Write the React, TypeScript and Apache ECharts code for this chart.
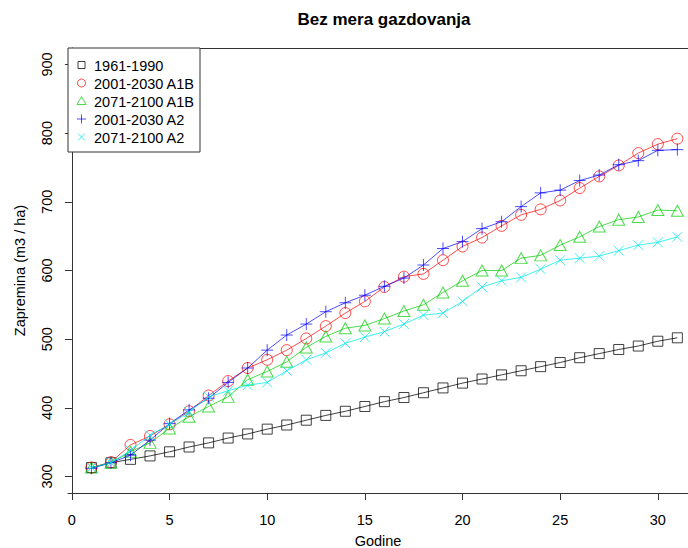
import React, { useEffect, useRef } from "react";
import * as echarts from "echarts";

const years = [1, 2, 3, 4, 5, 6, 7, 8, 9, 10, 11, 12, 13, 14, 15, 16, 17, 18, 19, 20, 21, 22, 23, 24, 25, 26, 27, 28, 29, 30, 31];

const base1961 = [313, 320, 325, 330, 336, 343, 349, 356, 362, 369, 375, 382, 389, 395, 402, 409, 415, 422, 429, 436, 442, 448, 454, 460, 466, 473, 479, 485, 490, 497, 502];
const a1b2001 = [313, 321, 346, 359, 376, 395, 418, 439, 458, 470, 484, 501, 519, 538, 555, 576, 591, 595, 615, 635, 648, 665, 681, 689, 702, 720, 737, 753, 771, 784, 792];
const a1b2071 = [313, 320, 336, 349, 370, 387, 402, 416, 441, 453, 467, 488, 504, 516, 520, 530, 541, 550, 568, 585, 600, 600, 618, 622, 637, 649, 664, 674, 678, 688, 687];
const a22001 = [312, 320, 331, 353, 377, 397, 414, 437, 458, 484, 506, 522, 540, 553, 564, 577, 589, 608, 632, 642, 661, 671, 693, 713, 717, 731, 739, 754, 760, 775, 776];
const a22071 = [313, 320, 338, 360, 376, 394, 416, 425, 433, 437, 454, 470, 480, 494, 503, 511, 522, 535, 538, 555, 576, 585, 590, 602, 615, 618, 621, 629, 637, 641, 649];

const seriesNames = ["1961-1990", "2001-2030 A1B", "2071-2100 A1B", "2001-2030 A2", "2071-2100 A2"];
const xTicks = [0, 5, 10, 15, 20, 25, 30];
const yTicks = [300, 400, 500, 600, 700, 800, 900];

const titleText = "Bez mera gazdovanja";
const xName = "Godine";
const yName = "Zapremina (m3 / ha)";

const FONT = "'Liberation Sans', Arial, sans-serif";
const FS = 14.5;
const COLORS = ["rgba(0,0,0,0.75)", "rgba(255,0,0,0.7)", "rgba(0,205,0,0.7)", "rgba(0,0,255,0.7)", "rgba(0,235,235,0.75)"];
const SYMBOLS = [
  "rect",
  "circle",
  "triangle",
  "path://M0,5L10,5M5,0L5,10",
  "path://M0,0L10,10M10,0L0,10",
];
const SIZES: any[] = [10, 11, [12, 11], 12, 10];

export default function App() {
  const ref = useRef<HTMLDivElement>(null);
  useEffect(() => {
    if (!ref.current) return;
    const chart = echarts.init(ref.current, undefined, { renderer: "svg" });
    const allData = [base1961, a1b2001, a1b2071, a22001, a22071];

    const series = allData.map((vals, i) => ({
      name: seriesNames[i],
      type: "line",
      data: years.map((x, j) => [x, vals[j]]),
      symbol: SYMBOLS[i],
      symbolSize: SIZES[i],
      showAllSymbol: true,
      silent: true,
      lineStyle: { color: COLORS[i], width: 1 },
      itemStyle: { color: "transparent", borderColor: COLORS[i], borderWidth: 1 },
      emphasis: { disabled: true },
      z: 2 + i,
    }));

    const rowY = [65, 83, 101, 119, 137];
    const sx = 81.5;
    const legendEls: any[] = [
      {
        type: "rect",
        shape: { x: 68, y: 48, width: 132, height: 104 },
        style: { fill: "#fff", stroke: "#333", lineWidth: 1 },
        z: 100,
      },
    ];
    const sym = (i: number, y: number) => {
      const st = { fill: "none", stroke: COLORS[i], lineWidth: 1 };
      if (i === 0) return [{ type: "rect", shape: { x: sx - 3.5, y: y - 3.5, width: 7, height: 7 }, style: st, z: 101 }];
      if (i === 1) return [{ type: "circle", shape: { cx: sx, cy: y, r: 4 }, style: st, z: 101 }];
      if (i === 2)
        return [{ type: "polygon", shape: { points: [[sx, y - 4.5], [sx - 4.5, y + 3.5], [sx + 4.5, y + 3.5]] }, style: st, z: 101 }];
      if (i === 3)
        return [
          { type: "line", shape: { x1: sx - 4.5, y1: y, x2: sx + 4.5, y2: y }, style: st, z: 101 },
          { type: "line", shape: { x1: sx, y1: y - 4.5, x2: sx, y2: y + 4.5 }, style: st, z: 101 },
        ];
      return [
        { type: "line", shape: { x1: sx - 3.5, y1: y - 3.5, x2: sx + 3.5, y2: y + 3.5 }, style: st, z: 101 },
        { type: "line", shape: { x1: sx - 3.5, y1: y + 3.5, x2: sx + 3.5, y2: y - 3.5 }, style: st, z: 101 },
      ];
    };
    seriesNames.forEach((n, i) => {
      legendEls.push(...sym(i, rowY[i]));
      legendEls.push({
        type: "text",
        x: 94,
        y: rowY[i] + 0.5,
        style: { text: n, fill: "#000", fontSize: FS, fontFamily: FONT, align: "left", verticalAlign: "middle" },
        z: 101,
      });
    });

    chart.setOption({
      animation: false,
      backgroundColor: "#fff",
      grid: {
        left: 68,
        top: 48,
        width: 620,
        height: 445,
        show: false,
        containLabel: false,
        outerBoundsMode: "none",
      },
      xAxis: {
        type: "value",
        min: -0.2,
        max: 31.545,
        splitLine: { show: false },
        axisLine: { show: true, lineStyle: { color: "#333", width: 1 } },
        axisTick: { show: true, inside: false, length: 7, customValues: xTicks, lineStyle: { color: "#333" } },
        axisLabel: { customValues: xTicks, fontSize: FS, color: "#000", fontFamily: FONT, margin: 19 },
        name: xName,
        nameLocation: "middle",
        nameGap: 40,
        nameTextStyle: { fontSize: FS, color: "#000", fontFamily: FONT },
      },
      yAxis: {
        type: "value",
        min: 276,
        max: 924,
        splitLine: { show: false },
        axisLine: { show: true, lineStyle: { color: "#333", width: 1 } },
        axisTick: { show: true, inside: false, length: 7, customValues: yTicks, lineStyle: { color: "#333" } },
        axisLabel: { customValues: yTicks, fontSize: FS, color: "#000", fontFamily: FONT, margin: 14, rotate: 90 },
        name: yName,
        nameLocation: "middle",
        nameGap: 41,
        nameRotate: 90,
        nameTextStyle: { fontSize: FS, color: "#000", fontFamily: FONT },
      },
      series,
      graphic: [
        {
          type: "line",
          shape: { x1: 68, y1: 48.5, x2: 688, y2: 48.5 },
          style: { stroke: "#333", lineWidth: 1 },
          z: 50,
        },
        {
          type: "text",
          x: 384,
          y: 19,
          style: {
            text: titleText,
            fill: "#000",
            fontSize: 17,
            fontWeight: "bold",
            fontFamily: FONT,
            align: "center",
            verticalAlign: "middle",
          },
          z: 100,
        },
        ...legendEls,
      ],
    });
    return () => chart.dispose();
  }, []);
  return <div ref={ref} style={{ position: "fixed", left: 0, top: 0, width: 688, height: 548 }} />;
}
